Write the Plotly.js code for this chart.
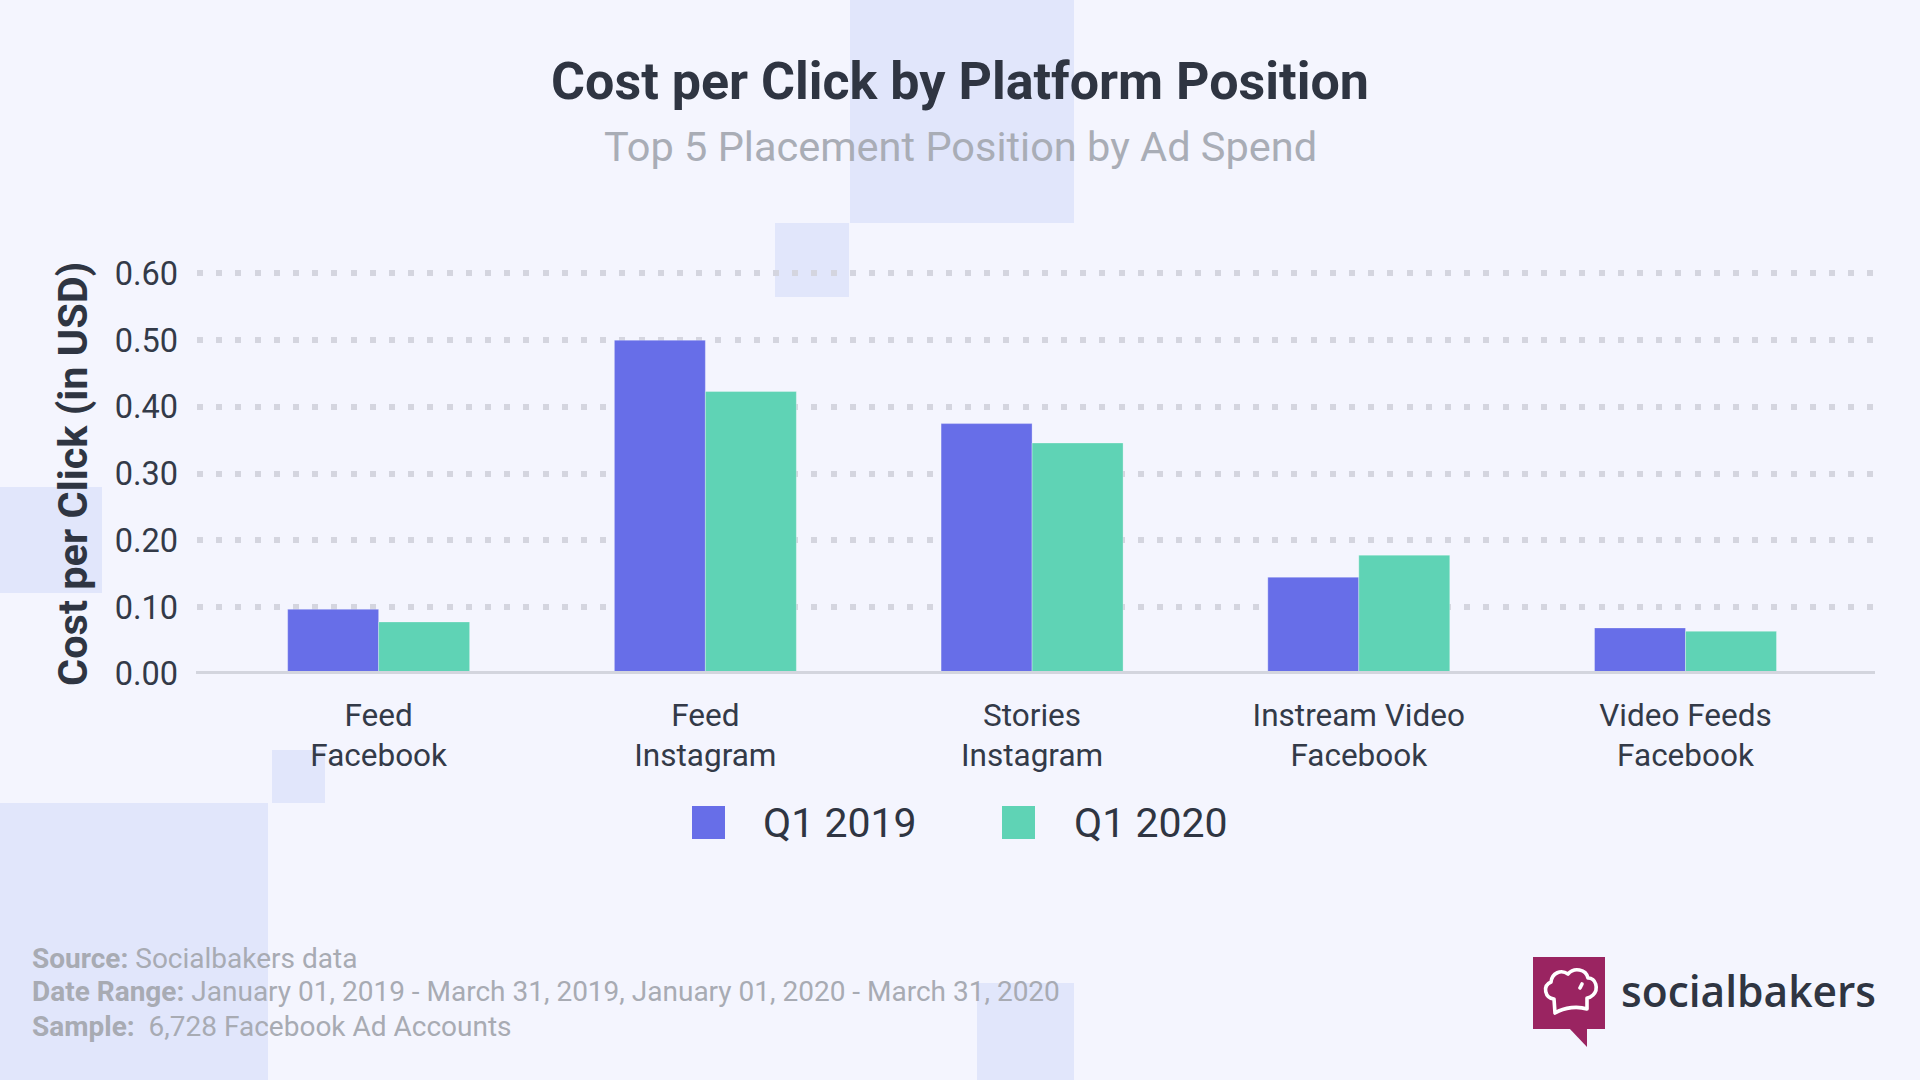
<!DOCTYPE html>
<html>
<head>
<meta charset="utf-8">
<script src="https://cdn.plot.ly/plotly-3.0.1.min.js"></script>
<style>
html,body{margin:0;padding:0;background:#f4f5fe;}
#chart{width:1920px;height:1080px;}
</style>
</head>
<body>
<div id="chart"></div>
<script>
// ---- data ----
const categories = ['Feed<br>Facebook', 'Feed<br>Instagram', 'Stories<br>Instagram', 'Instream Video<br>Facebook', 'Video Feeds<br>Facebook'];
const seriesNames = ['Q1 2019', 'Q1 2020'];
const q1_2019 = [0.097, 0.500, 0.375, 0.145, 0.069];
const q1_2020 = [0.078, 0.423, 0.346, 0.178, 0.064];
const yTickVals = [0, 0.1, 0.2, 0.3, 0.4, 0.5, 0.6];
const titleText = 'Cost per Click by Platform Position';
const subtitleText = 'Top 5 Placement Position by Ad Spend';
const yTitleText = 'Cost per Click (in USD)';
const footerLines = [
  '<b>Source:</b> Socialbakers data',
  '<b>Date Range:</b> January 01, 2019 - March 31, 2019, January 01, 2020 - March 31, 2020',
  '<b>Sample:</b>\u00a0 6,728 Facebook Ad Accounts'
];
const brandText = 'socialbakers';

// ---- styling ----
const colors = ['#676ee8', '#5fd3b5'];
const bg = '#f4f5fe';
const deco = '#e1e6fb';
const dark = '#2f3542';
const W = 1920, H = 1080;
const M = {l: 197, r: 45, t: 260, b: 406};
const PW = W - M.l - M.r, PH = H - M.t - M.b;
const X = px => (px - M.l) / PW;
const Y = py => (H - M.b - py) / PH;

const traces = [q1_2019, q1_2020].map((vals, i) => ({
  type: 'bar',
  name: seriesNames[i],
  x: categories,
  y: vals,
  marker: {color: colors[i], line: {width: 1, color: 'rgba(255,255,255,0.3)'}},
  showlegend: false,
  hoverinfo: 'skip'
}));

function rect(x0, y0, x1, y1, color, layer) {
  return {type: 'rect', xref: 'paper', yref: 'paper', x0: X(x0), x1: X(x1), y0: Y(y0), y1: Y(y1),
    fillcolor: color, line: {width: 0}, layer: layer || 'below'};
}

const shapes = [
  rect(850, 0, 1074, 223, deco),
  rect(775, 223, 849, 297, deco),
  rect(0, 487, 102, 593, deco),
  rect(272, 750, 325, 803, deco),
  rect(0, 803, 268, 1080, deco),
  rect(977, 983, 1074, 1080, deco),
  // baseline axis line drawn above bars
  {type: 'line', xref: 'paper', yref: 'y', x0: X(196), x1: 1, y0: 0, y1: 0,
   line: {color: '#d3d5de', width: 6}, layer: 'above'},
  // legend swatches
  rect(692, 806, 725, 839, colors[0], 'above'),
  rect(1002, 806, 1035, 839, colors[1], 'above')
];

const annotations = [
  {text: subtitleText, xref: 'paper', yref: 'paper', x: X(960), y: Y(146), xanchor: 'center', yanchor: 'middle',
   showarrow: false, font: {family: 'Roboto', size: 41.5, color: '#a9adb6'}},
  {text: yTitleText, xref: 'paper', yref: 'paper', x: X(72), y: Y(474), xanchor: 'center', yanchor: 'middle',
   textangle: -90, showarrow: false, font: {family: 'Roboto', size: 41.5, weight: 700, color: dark}},
  {text: seriesNames[0], xref: 'paper', yref: 'paper', x: X(761), y: Y(823), xanchor: 'left', yanchor: 'middle',
   showarrow: false, font: {family: 'Roboto', size: 41, color: dark}},
  {text: seriesNames[1], xref: 'paper', yref: 'paper', x: X(1072), y: Y(823), xanchor: 'left', yanchor: 'middle',
   showarrow: false, font: {family: 'Roboto', size: 41, color: dark}},
  {text: brandText, xref: 'paper', yref: 'paper', x: X(1619), y: Y(991), xanchor: 'left', yanchor: 'middle',
   showarrow: false, font: {family: 'Open Sans', size: 42.5, weight: 600, color: dark}}
];
const footerY = [958, 992, 1026];
footerLines.forEach((t, i) => annotations.push({
  text: t, xref: 'paper', yref: 'paper', x: X(30), y: Y(footerY[i]), xanchor: 'left', yanchor: 'middle',
  showarrow: false, font: {family: 'Roboto', size: 28, color: '#a8abb3'}
}));

const logoSvg = '<svg xmlns="http://www.w3.org/2000/svg" viewBox="0 0 72 90" width="72" height="90">' +
  '<rect x="0" y="0" width="72" height="72" fill="#9a2461"/>' +
  '<polygon points="36,71 54,90 54,71" fill="#9a2461"/>' +
  '<path d="M21,42 C12,41 9,29 18,25 C19,16 28,12 35,17 C41,10 53,12 55,21 C63,21 66,32 60,38 C58,40 56,41 54,41 L54,52 C45,49 32,50 22,56 Z" fill="none" stroke="#ffffff" stroke-width="3.6" stroke-linejoin="round" stroke-linecap="round"/>' +
  '<path d="M49,27 L47,31" fill="none" stroke="#ffffff" stroke-width="3.6" stroke-linecap="round"/>' +
  '</svg>';

const layout = {
  width: W, height: H,
  paper_bgcolor: bg, plot_bgcolor: 'rgba(0,0,0,0)',
  margin: M,
  barmode: 'group', bargap: 0.443, bargroupgap: 0,
  title: {text: titleText, font: {family: 'Roboto', size: 52, weight: 700, color: dark},
          x: 0.5, xref: 'container', xanchor: 'center', y: 1 - 81 / H, yref: 'container', yanchor: 'middle'},
  xaxis: {type: 'category', range: [-0.556, 4.58], showgrid: false, zeroline: false, showline: false,
          ticks: '', tickfont: {family: 'Roboto', size: 31.5, color: '#333a48'}, ticklabelstandoff: 19},
  yaxis: {range: [0, 0.62], tickvals: yTickVals, tickformat: '.2f', showgrid: true,
          gridcolor: '#d4d5df', gridwidth: 6, griddash: '6px,13.2px', zeroline: false, showline: false,
          ticks: '', tickfont: {family: 'Roboto', size: 32.5, color: '#333a48'}, ticklabelstandoff: 18},
  shapes: shapes,
  annotations: annotations,
  images: [{source: 'data:image/svg+xml;charset=utf-8,' + encodeURIComponent(logoSvg),
            xref: 'paper', yref: 'paper', x: X(1533), y: Y(957), sizex: 72 / PW, sizey: 90 / PH,
            xanchor: 'left', yanchor: 'top', sizing: 'stretch', layer: 'above'}],
  showlegend: false,
  font: {family: 'Roboto', color: dark}
};

Plotly.newPlot('chart', traces, layout, {staticPlot: true, displayModeBar: false});
</script>
</body>
</html>
